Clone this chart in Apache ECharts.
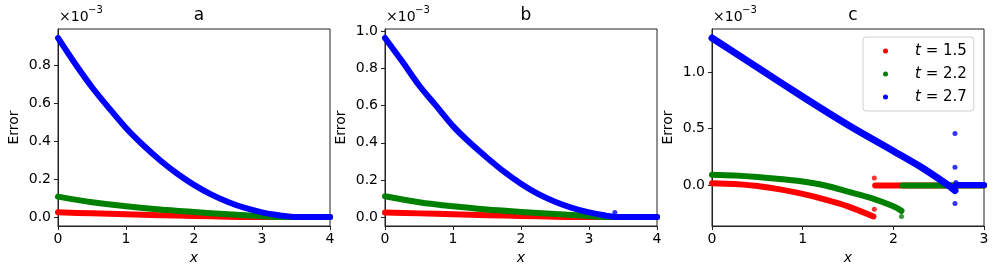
<!DOCTYPE html>
<html><head><meta charset="utf-8">
<script src="https://cdn.jsdelivr.net/npm/echarts@6/dist/echarts.min.js"></script>
<style>html,body{margin:0;padding:0;background:#fff}#c{width:997px;height:276px}</style>
</head><body><div id="c"></div><script>
// ---------- data (values in units of 1e-3) ----------
const panelTitles = ['a', 'b', 'c'];
const legendValues = ['1.5', '2.2', '2.7'];
const xTicksAB = [0, 1, 2, 3, 4];
const xTicksC = [0, 1, 2, 3];
const yTicksA = [0, 0.2, 0.4, 0.6, 0.8];
const yTicksB = [0, 0.2, 0.4, 0.6, 0.8, 1.0];
const yTicksC = [0, 0.5, 1.0];

// panel a
const aBlueX = [0, 0.25, 0.5, 0.75, 1, 1.25, 1.5, 1.75, 2, 2.25, 2.5, 2.75, 3, 3.25, 3.5, 4];
const aBlueY = [0.945, 0.81, 0.685, 0.575, 0.47, 0.38, 0.30, 0.23, 0.17, 0.12, 0.08, 0.048, 0.025, 0.01, 0.0, 0.0];
const aGreenX = [0, 0.5, 1, 1.5, 2, 2.5, 3, 3.3, 4];
const aGreenY = [0.108, 0.078, 0.057, 0.04, 0.027, 0.015, 0.005, 0.0, 0.0];
const aRedX = [0, 0.5, 1, 1.5, 2, 2.5, 3, 4];
const aRedY = [0.025, 0.02, 0.015, 0.01, 0.006, 0.002, 0.0, 0.0];

// panel b
const bBlueX = [0, 0.25, 0.5, 0.75, 1, 1.25, 1.5, 1.75, 2, 2.25, 2.5, 2.75, 3, 3.25, 3.4, 4];
const bBlueY = [0.965, 0.84, 0.71, 0.6, 0.49, 0.40, 0.32, 0.245, 0.18, 0.125, 0.083, 0.05, 0.025, 0.008, 0.0, 0.0];
const bBlueDotX = [3.38];
const bBlueDotY = [0.025];
const bGreenX = [0, 0.5, 1, 1.5, 2, 2.5, 3, 3.3, 4];
const bGreenY = [0.112, 0.08, 0.058, 0.041, 0.028, 0.016, 0.006, 0.0, 0.0];
const bRedX = [0, 0.5, 1, 1.5, 2, 2.5, 3, 4];
const bRedY = [0.025, 0.02, 0.015, 0.01, 0.006, 0.002, 0.0, 0.0];

// panel c
const cRedX = [0, 0.25, 0.5, 0.75, 1, 1.25, 1.5, 1.78];
const cRedY = [0.015, 0.008, -0.01, -0.04, -0.08, -0.13, -0.19, -0.28];
const cRedFlatX = [1.8, 3];
const cRedFlatY = [-0.005, -0.005];
const cRedDotX = [1.79, 1.79];
const cRedDotY = [0.06, -0.215];
const cGreenX = [0, 0.25, 0.5, 0.75, 1, 1.25, 1.5, 1.75, 2, 2.09];
const cGreenY = [0.09, 0.083, 0.07, 0.052, 0.03, -0.005, -0.06, -0.115, -0.19, -0.23];
const cGreenFlatX = [2.1, 3];
const cGreenFlatY = [-0.005, -0.005];
const cGreenDotX = [2.09];
const cGreenDotY = [-0.28];
const cBlueX = [0, 0.5, 1, 1.5, 2, 2.3, 2.6, 2.68];
const cBlueY = [1.30, 1.04, 0.78, 0.53, 0.30, 0.16, 0.0, -0.05];
const cBlueFlatX = [2.69, 3];
const cBlueFlatY = [0.0, 0.0];
const cBlueDotX = [2.68, 2.68, 2.68, 2.69];
const cBlueDotY = [0.455, 0.155, -0.165, 0.02];

// ---------- build ----------
const RED = '#ff0000', GREEN = '#008000', BLUE = '#0000ff';
const FONT = 'DejaVu Sans';
const zip = (xs, ys) => xs.map((x, i) => [x, ys[i]]);

const grids = [
  { left: 58, top: 29, width: 272, height: 197 },
  { left: 385, top: 29, width: 272, height: 197 },
  { left: 712, top: 29, width: 272, height: 197 }
].map(g => Object.assign(g, { show: true, borderColor: '#222', borderWidth: 1, backgroundColor: 'transparent' }));

function xAxis(i, max, ticks) {
  return {
    type: 'value', gridIndex: i, min: 0, max: max,
    name: 'x', nameLocation: 'middle', nameGap: 24,
    nameTextStyle: { fontFamily: FONT, fontSize: 14, fontStyle: 'italic', color: '#000' },
    splitLine: { show: false },
    axisLine: { show: true, onZero: false, lineStyle: { color: '#222', width: 1 } },
    axisTick: { show: true, length: 4, customValues: ticks, lineStyle: { color: '#222' } },
    axisLabel: { customValues: ticks, margin: 6, fontFamily: FONT, fontSize: 14, color: '#000',
      formatter: v => String(Math.round(v)) }
  };
}
function yAxis(i, min, max, ticks) {
  return {
    type: 'value', gridIndex: i, min: min, max: max,
    name: 'Error', nameLocation: 'middle', nameGap: 37, nameRotate: 90,
    nameTextStyle: { fontFamily: FONT, fontSize: 14, color: '#000' },
    splitLine: { show: false },
    axisLine: { show: true, onZero: false, lineStyle: { color: '#222', width: 1 } },
    axisTick: { show: true, length: 4, customValues: ticks, lineStyle: { color: '#222' } },
    axisLabel: { customValues: ticks, margin: 7, fontFamily: FONT, fontSize: 14, color: '#000',
      formatter: v => v.toFixed(1) }
  };
}

function lineS(name, i, xs, ys, color, w) {
  return {
    type: 'line', name: name, xAxisIndex: i, yAxisIndex: i, data: zip(xs, ys),
    showSymbol: false, symbol: 'none', silent: true,
    smooth: 0.3,
    lineStyle: { color: color, width: w || 6, cap: 'round', join: 'round' },
    itemStyle: { color: color }
  };
}
function dotS(name, i, xs, ys, color) {
  return {
    type: 'scatter', name: name, xAxisIndex: i, yAxisIndex: i, data: zip(xs, ys),
    symbol: 'circle', symbolSize: 5, itemStyle: { color: color }, silent: true
  };
}

const n1 = 't = ' + legendValues[0], n2 = 't = ' + legendValues[1], n3 = 't = ' + legendValues[2];

const series = [
  lineS('a1', 0, aRedX, aRedY, RED),
  lineS('a2', 0, aGreenX, aGreenY, GREEN),
  lineS('a3', 0, aBlueX, aBlueY, BLUE),
  lineS('b1', 1, bRedX, bRedY, RED),
  lineS('b2', 1, bGreenX, bGreenY, GREEN),
  lineS('b3', 1, bBlueX, bBlueY, BLUE),
  dotS('b3', 1, bBlueDotX, bBlueDotY, BLUE),
  lineS(n1, 2, cRedX, cRedY, RED),
  lineS(n1, 2, cRedFlatX, cRedFlatY, RED),
  dotS(n1, 2, cRedDotX, cRedDotY, RED),
  lineS(n2, 2, cGreenX, cGreenY, GREEN),
  lineS(n2, 2, cGreenFlatX, cGreenFlatY, GREEN),
  dotS(n2, 2, cGreenDotX, cGreenDotY, GREEN),
  lineS(n3, 2, cBlueX, cBlueY, BLUE, 7),
  lineS(n3, 2, cBlueFlatX, cBlueFlatY, BLUE),
  dotS(n3, 2, cBlueDotX, cBlueDotY, BLUE)
];

const titleX = [194, 521, 848];
const option = {
  animation: false,
  backgroundColor: '#fff',
  title: panelTitles.map((t, i) => ({
    text: t, left: titleX[i], top: 2, textAlign: 'center',
    textStyle: { fontFamily: FONT, fontSize: 17, fontWeight: 'normal', color: '#000' }
  })),
  graphic: grids.flatMap(g => [
    { type: 'text', left: g.left + 1, top: 10, style: { text: '×10', font: '14px "DejaVu Sans"', fill: '#000' } },
    { type: 'text', left: g.left + 30, top: 5, style: { text: '−3', font: '10px "DejaVu Sans"', fill: '#000' } }
  ]),
  legend: {
    data: [n1, n2, n3], left: 863, top: 37, orient: 'vertical',
    icon: 'circle', itemWidth: 5, itemHeight: 5, itemGap: 5,
    padding: [5, 7, 5, 20],
    borderColor: '#d0d0d0', borderWidth: 1, borderRadius: 3, backgroundColor: 'rgba(255,255,255,0.8)',
    selectedMode: false,
    formatter: name => '{i|t} = ' + name.split('= ')[1],
    textStyle: { fontFamily: FONT, fontSize: 15, color: '#000', lineHeight: 18, padding: [0, 0, 0, 22],
      rich: { i: { fontFamily: FONT, fontSize: 15, fontStyle: 'italic', color: '#000' } } }
  },
  grid: grids,
  xAxis: [xAxis(0, 4, xTicksAB), xAxis(1, 4, xTicksAB), xAxis(2, 3, xTicksC)],
  yAxis: [yAxis(0, -0.047, 0.992, yTicksA), yAxis(1, -0.048, 1.013, yTicksB), yAxis(2, -0.364, 1.38, yTicksC)],
  series: series
};
const chart = echarts.init(document.getElementById('c'), null, { renderer: 'canvas' });
chart.setOption(option);
</script></body></html>
